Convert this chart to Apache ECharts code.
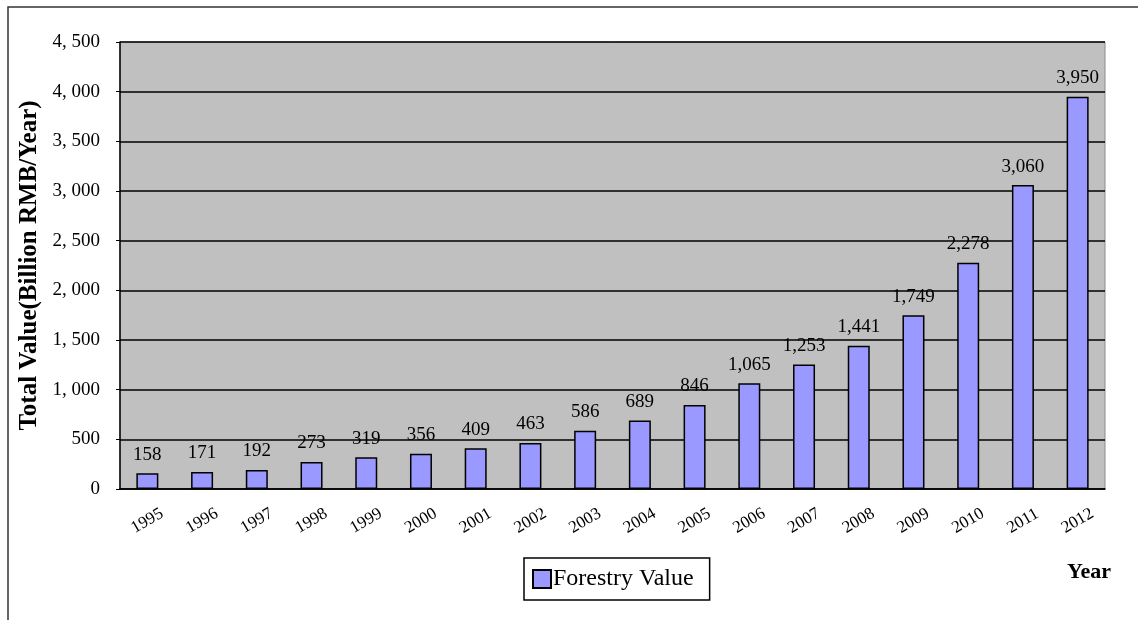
<!DOCTYPE html>
<html>
<head>
<meta charset="utf-8">
<script src="https://cdn.jsdelivr.net/npm/echarts@6/dist/echarts.min.js"></script>
<style>
  html, body { margin: 0; padding: 0; background: #fff; }
  #main { width: 1138px; height: 620px; }
</style>
</head>
<body>
<div id="main"></div>
<script>
var years = ['1995', '1996', '1997', '1998', '1999', '2000', '2001', '2002', '2003',
             '2004', '2005', '2006', '2007', '2008', '2009', '2010', '2011', '2012'];
var forestryValue = [158, 171, 192, 273, 319, 356, 409, 463, 586,
                     689, 846, 1065, 1253, 1441, 1749, 2278, 3060, 3950];
var yTicks = [0, 500, 1000, 1500, 2000, 2500, 3000, 3500, 4000, 4500];

var serif = '"Liberation Serif", "DejaVu Serif", serif';

// y axis labels look like "4, 500"
function tickLabel(v) {
    if (v < 1000) return String(v);
    var s = String(v);
    return s.slice(0, s.length - 3) + ', ' + s.slice(-3);
}
function barLabel(v) {
    return v.toLocaleString('en-US');
}

var myChart = echarts.init(document.getElementById('main'));
var option = {
    animation: false,
    backgroundColor: '#fff',
    textStyle: { fontFamily: serif },
    grid: {
        left: 120, right: 33, top: 42, bottom: 131,
        show: true,
        backgroundColor: '#c0c0c0',
        borderColor: '#8c8c8c',
        borderWidth: 1
    },
    legend: {
        left: 524, top: 558,
        data: ['Forestry Value'],
        itemWidth: 18, itemHeight: 18,
        itemGap: 4,
        padding: [9, 16, 9, 8],
        borderColor: '#000', borderWidth: 1.5,
        icon: 'rect',
        textStyle: { fontFamily: serif, fontSize: 24, color: '#000', padding: [0, 0, 0, -3] }
    },
    graphic: [
        {
            type: 'rect', z: -1, silent: true,
            shape: { x: 8, y: 7, width: 1200, height: 700 },
            style: { fill: 'none', stroke: '#333', lineWidth: 1.5 }
        },
        {
            type: 'text', left: 1067, top: 561,
            style: { text: 'Year', font: 'bold 22px ' + serif, fill: '#000' }
        }
    ],
    xAxis: {
        type: 'category',
        data: years,
        axisLine: { lineStyle: { color: '#000', width: 1.5 } },
        axisTick: { inside: true, length: 5, lineStyle: { color: '#000', width: 1.5 } },
        axisLabel: {
            rotate: 30, margin: 32, interval: 0,
            align: 'center', verticalAlign: 'middle',
            fontFamily: serif, fontSize: 17, color: '#000'
        }
    },
    yAxis: {
        type: 'value',
        min: 0, max: 4500, interval: 500,
        name: 'Total Value(Billion RMB/Year)',
        nameLocation: 'middle',
        nameGap: 60,
        nameTextStyle: { fontFamily: serif, fontSize: 25, fontWeight: 'bold', color: '#000' },
        axisLine: { show: true, lineStyle: { color: '#000', width: 1.5 } },
        axisTick: { show: true, length: 4, lineStyle: { color: '#000' } },
        splitLine: { lineStyle: { color: '#000', width: 1.5 } },
        axisLabel: {
            margin: 20,
            fontFamily: serif, fontSize: 19, color: '#000',
            formatter: function (v) { return yTicks.indexOf(v) >= 0 ? tickLabel(v) : ''; }
        }
    },
    series: [{
        name: 'Forestry Value',
        type: 'bar',
        data: forestryValue,
        barWidth: 22,
        itemStyle: { color: '#9999ff', borderColor: '#000', borderWidth: 1.5 },
        label: {
            show: true, position: 'top', distance: 9,
            fontFamily: serif, fontSize: 19, color: '#000',
            formatter: function (p) { return barLabel(p.value); }
        }
    }]
};
myChart.setOption(option);
</script>
</body>
</html>
